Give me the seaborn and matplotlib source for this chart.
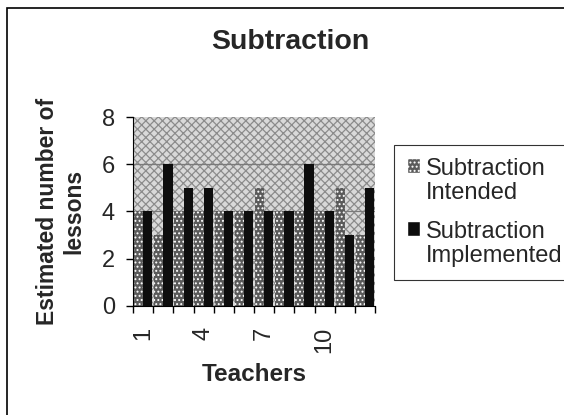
import numpy as np
import pandas as pd
import matplotlib
matplotlib.use("Agg")
import matplotlib.pyplot as plt
import seaborn as sns
from matplotlib.patches import Rectangle

# data
teachers = [str(i) for i in range(1, 13)]
intended = [4, 3, 4, 4, 4, 4, 5, 4, 4, 4, 5, 3]
implemented = [4, 6, 5, 5, 4, 4, 4, 4, 6, 4, 3, 5]
series_names = ["Subtraction\nIntended", "Subtraction\nImplemented"]
tick_labels = ["1", "", "", "4", "", "", "7", "", "", "10", "", ""]

df = pd.DataFrame({
    "teacher": teachers * 2,
    "lessons": intended + implemented,
    "series": [series_names[0]] * 12 + [series_names[1]] * 12,
})

sns.set_style("white")
plt.rcParams["font.family"] = ["Liberation Sans", "DejaVu Sans"]
plt.rcParams["hatch.linewidth"] = 0.9

fig = plt.figure(figsize=(5.64, 4.15), dpi=100)
ax = fig.add_axes([0.236, 0.263, 0.429, 0.455])

# dotted grey plot area
ax.set_facecolor("#d9d9d9")
ax.add_patch(Rectangle((0, 0), 1, 1, transform=ax.transAxes, facecolor="none",
                       edgecolor="#8c8c8c", hatch="xxxx", lw=0, zorder=0))
for y in [2, 4, 6]:
    ax.axhline(y, color="#7a7a7a", lw=0.9, zorder=0.5)

sns.barplot(data=df, x="teacher", y="lessons", hue="series", order=teachers,
            hue_order=series_names, palette=["#5a5a5a", "#0d0d0d"],
            width=0.92, saturation=1, ax=ax, zorder=2, legend=True)

# intended bars: dark dotted pattern, implemented: solid black
for bar in ax.containers[0]:
    bar.set_hatch("....")
    bar.set_edgecolor("white")
    bar.set_linewidth(0)
for bar in ax.containers[1]:
    bar.set_linewidth(0)

n = len(teachers)
ax.set_ylim(0, 8)
ax.set_yticks([0, 2, 4, 6, 8])
ax.set_xlim(-0.5, n - 0.5)
ax.set_xticks(np.arange(-0.5, n, 1), minor=True)
ax.set_xticks(range(n))
ax.set_xticklabels(tick_labels, rotation=90, fontsize=17)
ax.tick_params(axis="x", which="major", length=0, pad=15)
ax.tick_params(axis="x", which="minor", length=5, width=1, direction="out", color="black", bottom=True)
ax.tick_params(axis="y", length=5, width=1, direction="out", color="black", labelsize=17, left=True, pad=8)
for s in ["top", "right"]:
    ax.spines[s].set_visible(False)
ax.spines["left"].set_color("black")
ax.spines["bottom"].set_color("black")

ax.set_xlabel("Teachers", fontsize=17.5, fontweight="bold", labelpad=7)
ax.set_ylabel("Estimated number of\nlessons", fontsize=16.5, fontweight="bold", labelpad=12)

fig.text(0.514, 0.898, "Subtraction", ha="center", va="center", fontsize=20.5, fontweight="bold")

handles, labels = ax.get_legend_handles_labels()
for h in handles[:1]:
    h.set_hatch("....")
    h.set_edgecolor("white")
ax.get_legend().remove()
leg = fig.legend(handles, labels, loc="upper left", bbox_to_anchor=(0.699, 0.651),
                 frameon=True, fancybox=False, edgecolor="black", fontsize=17,
                 handlelength=0.55, handleheight=0.6, handletextpad=0.25,
                 labelspacing=0.7, borderpad=0.55, borderaxespad=0)
leg.get_frame().set_linewidth(0.8)
for t in leg.get_texts():
    t.set_linespacing(1.15)
# put the legend swatch next to the first line of each label
for col in leg._legend_handle_box.get_children():
    for row in col.get_children():
        row.align = "top"

# outer border of the figure (right and bottom sides cut off in the reference)
fig.patches.append(Rectangle((0.012, -0.05), 1.2, 1.031, transform=fig.transFigure,
                             fill=False, edgecolor="black", lw=1.2))

fig.savefig("out.png", dpi=100)
